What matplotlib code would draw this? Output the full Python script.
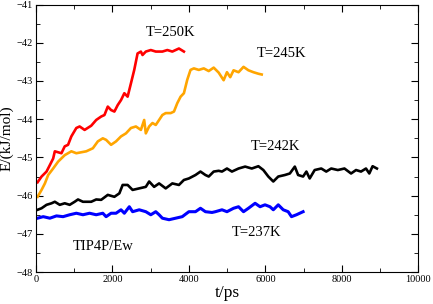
import numpy as np
import matplotlib
matplotlib.use('Agg')
import matplotlib.pyplot as plt
from matplotlib.ticker import MultipleLocator

plt.rcParams['font.family'] = ['Liberation Serif', 'DejaVu Serif']

# T=250K
t250 = [43, 147, 277, 364, 450, 494, 667, 753, 840, 926, 1056, 1143, 1273, 1446, 1576, 1706, 1792,
        1879, 1965, 2052, 2139, 2225, 2312, 2398, 2485, 2571, 2658, 2745, 2788, 2874, 3004, 3134,
        3307, 3437, 3567, 3740, 3870]
e250 = [-45.65, -45.5, -45.37, -45.2, -45.03, -44.84, -44.89, -44.71, -44.67, -44.45, -44.23, -44.19,
        -44.28, -44.17, -44.02, -43.93, -43.89, -43.67, -43.76, -43.8, -43.63, -43.5, -43.32, -43.41,
        -43.06, -42.71, -42.28, -42.23, -42.32, -42.23, -42.19, -42.23, -42.23, -42.19, -42.23,
        -42.15, -42.23]

# T=245K
t245 = [43, 147, 234, 320, 450, 580, 753, 926, 1056, 1316, 1489, 1619, 1749, 1835, 1965, 2095, 2225,
        2355, 2485, 2615, 2745, 2831, 2874, 2961, 3048, 3134, 3221, 3307, 3394, 3524, 3610, 3697,
        3784, 3870, 3957, 4043, 4130, 4260, 4390, 4519, 4649, 4779, 4909, 4996, 5082, 5169, 5299,
        5429, 5558, 5688, 5818, 5905]
e245 = [-46.03, -45.85, -45.68, -45.46, -45.29, -45.11, -44.94, -44.84, -44.89, -44.84, -44.76,
        -44.58, -44.5, -44.54, -44.67, -44.58, -44.45, -44.37, -44.23, -44.19, -44.28, -44.02, -44.37,
        -44.19, -44.1, -44.15, -44.02, -43.89, -43.84, -43.84, -43.8, -43.58, -43.41, -43.32, -42.97,
        -42.71, -42.67, -42.71, -42.67, -42.74, -42.65, -42.78, -42.98, -42.77, -42.9, -42.72, -42.77,
        -42.63, -42.72, -42.77, -42.81, -42.83]

# T=242K
t242 = [43, 147, 277, 407, 494, 623, 753, 883, 1013, 1100, 1229, 1446, 1576, 1706, 1879, 2052, 2182,
        2268, 2398, 2528, 2701, 2874, 2961, 3091, 3221, 3394, 3567, 3740, 3870, 4000, 4173, 4303,
        4433, 4519, 4649, 4779, 4866, 4996, 5126, 5299, 5472, 5645, 5818, 5948, 6078, 6208, 6338,
        6511, 6641, 6771, 6857, 6987, 7074, 7160, 7290, 7463, 7593, 7723, 7896, 8069, 8242, 8372,
        8502, 8632, 8719, 8805, 8918]
e242 = [-46.37, -46.33, -46.24, -46.2, -46.16, -46.24, -46.2, -46.24, -46.16, -46.1, -46.16, -46.16,
        -46.1, -46.11, -45.98, -46.03, -45.94, -45.72, -45.72, -45.85, -45.81, -45.77, -45.63, -45.77,
        -45.68, -45.81, -45.68, -45.72, -45.59, -45.55, -45.46, -45.37, -45.46, -45.5, -45.37, -45.35,
        -45.37, -45.29, -45.37, -45.29, -45.24, -45.29, -45.23, -45.33, -45.5, -45.63, -45.5, -45.46,
        -45.42, -45.24, -45.46, -45.5, -45.37, -45.55, -45.33, -45.29, -45.37, -45.29, -45.33,
        -45.29, -45.42, -45.33, -45.37, -45.29, -45.42, -45.23, -45.29]

# T=237K
t237 = [43, 190, 364, 537, 710, 883, 1056, 1229, 1403, 1576, 1749, 1835, 1965, 2095, 2225, 2312,
        2442, 2528, 2701, 2874, 3004, 3134, 3221, 3307, 3481, 3654, 3827, 4000, 4173, 4303, 4433,
        4606, 4693, 4866, 4996, 5169, 5299, 5429, 5558, 5732, 5862, 5991, 6121, 6208, 6338, 6468,
        6597, 6684, 6814, 6987]
e237 = [-46.59, -46.55, -46.59, -46.53, -46.55, -46.5, -46.46, -46.5, -46.46, -46.5, -46.46, -46.55,
        -46.46, -46.46, -46.37, -46.46, -46.29, -46.42, -46.37, -46.42, -46.5, -46.42, -46.5, -46.59,
        -46.63, -46.59, -46.55, -46.42, -46.42, -46.33, -46.42, -46.44, -46.42, -46.37, -46.42,
        -46.33, -46.29, -46.42, -46.33, -46.2, -46.29, -46.24, -46.29, -46.37, -46.24, -46.37,
        -46.42, -46.55, -46.5, -46.42]

fig = plt.figure(figsize=(4.33, 3.04), dpi=100)
ax = fig.add_axes([0.083, 0.105, 0.883, 0.88])

ax.plot(t250, e250, color='red', lw=1.9)
ax.plot(t245, e245, color='orange', lw=1.9)
ax.plot(t242, e242, color='black', lw=1.9)
ax.plot(t237, e237, color='blue', lw=2.2)

ax.text(2880, -41.72, 'T=250K', fontsize=10.5, va='center')
ax.text(5766, -42.27, 'T=245K', fontsize=10.5, va='center')
ax.text(5610, -44.72, 'T=242K', fontsize=10.5, va='center')
ax.text(5117, -46.97, 'T=237K', fontsize=10.5, va='center')
ax.text(961, -47.33, 'TIP4P/Ew', fontsize=10.5, va='center')

ax.set_xlim(0, 10000)
ax.set_ylim(-48, -41)
ax.xaxis.set_major_locator(MultipleLocator(2000))
ax.xaxis.set_minor_locator(MultipleLocator(1000))
ax.yaxis.set_major_locator(MultipleLocator(1))
ax.yaxis.set_minor_locator(MultipleLocator(0.5))
ax.tick_params(which='both', direction='in', top=True, right=True, labelsize=7.5, pad=2)
ax.tick_params(which='major', length=5)
ax.tick_params(which='minor', length=3)
ax.set_xlabel('t/ps', fontsize=12.5, labelpad=1)
ax.set_ylabel('E/(kJ/mol)', fontsize=11, labelpad=2)

fig.savefig('out.png', dpi=100)
